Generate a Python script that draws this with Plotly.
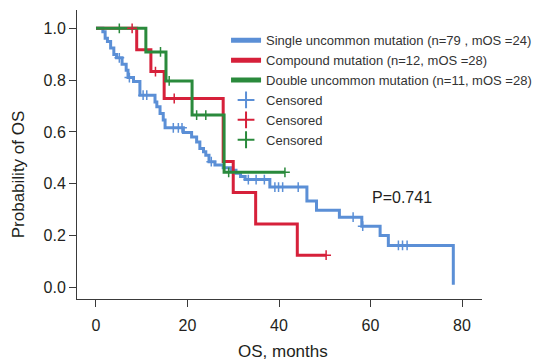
import plotly.graph_objects as go

# ---------------- data ----------------
# Single uncommon mutation: event times and survival after each step
single_t = [1.5, 2.0, 2.5, 3.2, 3.9, 4.5, 5.7, 6.6, 7.0, 8.2, 9.6, 12.9, 13.3, 14.0, 14.7, 15.1,
            19.1, 20.9, 22.0, 22.7, 23.5, 24.0, 24.7, 26.0, 27.8, 29.5, 30.6, 31.6, 32.6,
            38.0, 46.1, 48.2, 53.2, 58.1, 62.1, 63.9, 78.1]
single_s = [0.987, 0.962, 0.949, 0.924, 0.899, 0.886, 0.861, 0.838, 0.810, 0.795, 0.742, 0.716, 0.697, 0.671, 0.646, 0.616,
            0.598, 0.580, 0.561, 0.536, 0.523, 0.510, 0.485, 0.472, 0.462, 0.452, 0.440, 0.428, 0.416,
            0.387, 0.333, 0.298, 0.271, 0.236, 0.200, 0.162, 0.010]
single_cens = [5.1, 7.3, 10.3, 11.1, 16.9, 18.0, 18.8, 25.2, 33.3, 35.0, 36.8, 39.1, 39.9, 40.8, 44.2,
               56.2, 58.3, 66.1, 67.0, 68.0]

# Compound mutation
compound_t = [8.9, 12.0, 14.9, 27.8, 30.0, 34.9, 44.0]
compound_s = [0.917, 0.833, 0.729, 0.486, 0.366, 0.245, 0.124]
compound_end = 50.3
compound_cens = [7.9, 13.0, 17.1, 50.3]

# Double uncommon mutation
double_t = [10.9, 15.3, 21.0, 28.0]
double_s = [0.909, 0.797, 0.665, 0.444]
double_end = 41.3
double_cens = [5.1, 14.1, 16.0, 22.0, 24.0, 29.0, 41.3]

names = ["Single uncommon mutation (n=79 , mOS =24)",
         "Compound mutation (n=12, mOS =28)",
         "Double uncommon mutation (n=11, mOS =28)"]
censor_name = "Censored"
p_text = "P=0.741"
y_ticks = [0.0, 0.2, 0.4, 0.6, 0.8, 1.0]
x_ticks = [0, 20, 40, 60, 80]

BLUE = "#5b8fd6"
RED = "#d6203a"
GREEN = "#2a8a3c"
TXT = "#231f20"
FONT = "Liberation Sans, Arial, sans-serif"


def surv_at(times, surv, t):
    v = 1.0
    for ti, si in zip(times, surv):
        if ti <= t:
            v = si
    return v


fig = go.Figure()

curves = [
    (single_t, single_s, None, BLUE, names[0]),
    (compound_t, compound_s, compound_end, RED, names[1]),
    (double_t, double_s, double_end, GREEN, names[2]),
]
for t, s, end, col, nm in curves:
    xs = [0.0] + list(t)
    ys = [1.0] + list(s)
    if end is not None:
        xs.append(end)
        ys.append(s[-1])
    fig.add_trace(go.Scatter(x=xs, y=ys, mode="lines", name=nm,
                             line=dict(shape="hv", color=col, width=3)))

cens = [
    (single_t, single_s, single_cens, BLUE),
    (compound_t, compound_s, compound_cens, RED),
    (double_t, double_s, double_cens, GREEN),
]
for t, s, c, col in cens:
    fig.add_trace(go.Scatter(x=c, y=[surv_at(t, s, ci) for ci in c], mode="markers",
                             name=censor_name,
                             marker=dict(symbol="cross-thin-open", size=7, color=col,
                                         line=dict(color=col, width=1.5))))

fig.add_annotation(x=66.9, y=0.345, text=p_text, showarrow=False, xref="x", yref="y",
                   font=dict(family=FONT, size=16, color=TXT))
fig.add_annotation(x=-0.1444, y=0.43, xref="paper", yref="paper", text="Probability of OS",
                   textangle=-90, showarrow=False, xanchor="center", yanchor="middle",
                   font=dict(family=FONT, size=17, color=TXT))
fig.add_annotation(x=0.5086, y=-0.18, xref="paper", yref="paper", text="OS, months",
                   showarrow=False, xanchor="center", yanchor="middle",
                   font=dict(family=FONT, size=17, color=TXT))

axis_common = dict(showline=True, linecolor="#3a3a3a", linewidth=1, ticks="outside",
                   ticklen=7, tickcolor="#3a3a3a", tickwidth=1, showgrid=False, zeroline=False,
                   automargin=False,
                   tickfont=dict(family=FONT, size=16, color=TXT))

fig.update_layout(
    width=541, height=360,
    margin=dict(l=77, r=59, t=10, b=61, autoexpand=False),
    paper_bgcolor="white", plot_bgcolor="white",
    showlegend=True,
    legend=dict(x=0.368, y=0.947, xanchor="left", yanchor="top",
                font=dict(family=FONT, size=13, color="#333333"),
                bgcolor="rgba(0,0,0,0)", itemwidth=30, tracegroupgap=0,
                itemsizing="constant", traceorder="normal"),
    xaxis=dict(range=[-4.15, 84.37], tickvals=x_ticks, ticklabelstandoff=5, **axis_common),
    yaxis=dict(range=[-0.045, 1.0707], tickvals=y_ticks, tickformat=".1f", **axis_common),
)

fig.write_html("out.html", config={"displayModeBar": False},
               post_script="document.body.style.margin='0';document.body.style.overflow='hidden';")
